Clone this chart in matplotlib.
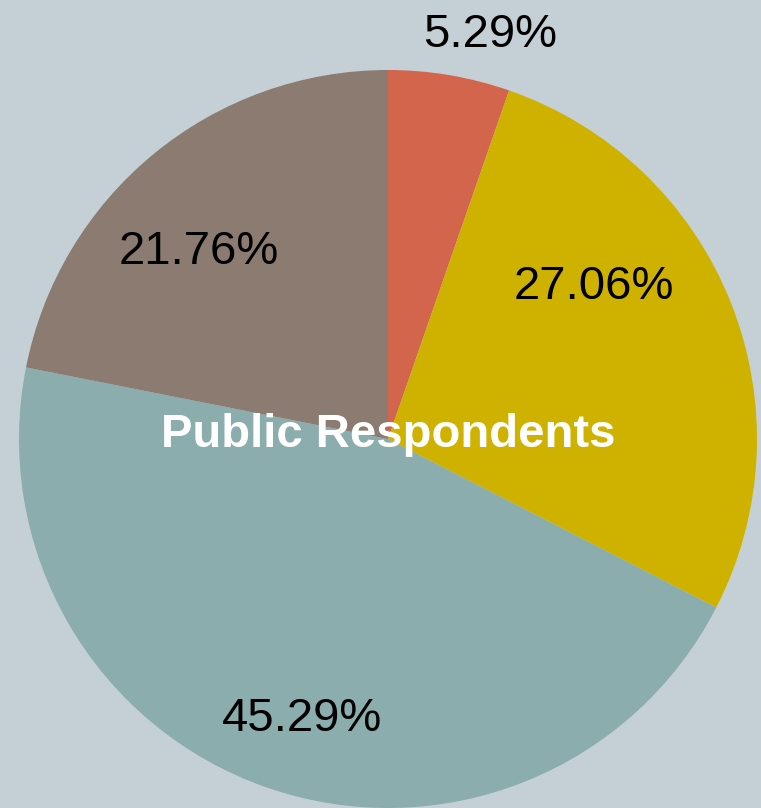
import matplotlib.pyplot as plt

plt.rcParams['font.family'] = ['Liberation Sans', 'DejaVu Sans']

shares = [5.29, 27.06, 45.29, 21.76]
colors = ['#d2654b', '#cfb200', '#8cadad', '#8b7b70']
center_title = "Public Respondents"
# label spots, in pie radius units
label_pos = [(0.276, 1.095), (0.557, 0.412), (-0.232, -0.758), (-0.514, 0.507)]

bg = '#c5d0d6'
fig = plt.figure(figsize=(7.61, 8.08), dpi=100, facecolor=bg)
ax = fig.add_axes([0, 0, 1, 1])
ax.set_facecolor(bg)

wedges, texts = ax.pie(shares, colors=colors, startangle=90, counterclock=False, radius=1.0)
for v, p in zip(shares, label_pos):
    ax.text(p[0], p[1], '%.2f%%' % v, ha='center', va='center', fontsize=34, color='black')

ax.text(0, 0.01, center_title, ha='center', va='center', fontsize=34,
        fontweight='bold', color='white')

# center at px (388, 439), radius ~369 px
r = 369.0
ax.set_xlim(-388 / r, (761 - 388) / r)
ax.set_ylim(-(808 - 439) / r, 439 / r)
ax.set_aspect('auto')
ax.axis('off')

plt.savefig('out.png', dpi=100, facecolor=bg)
